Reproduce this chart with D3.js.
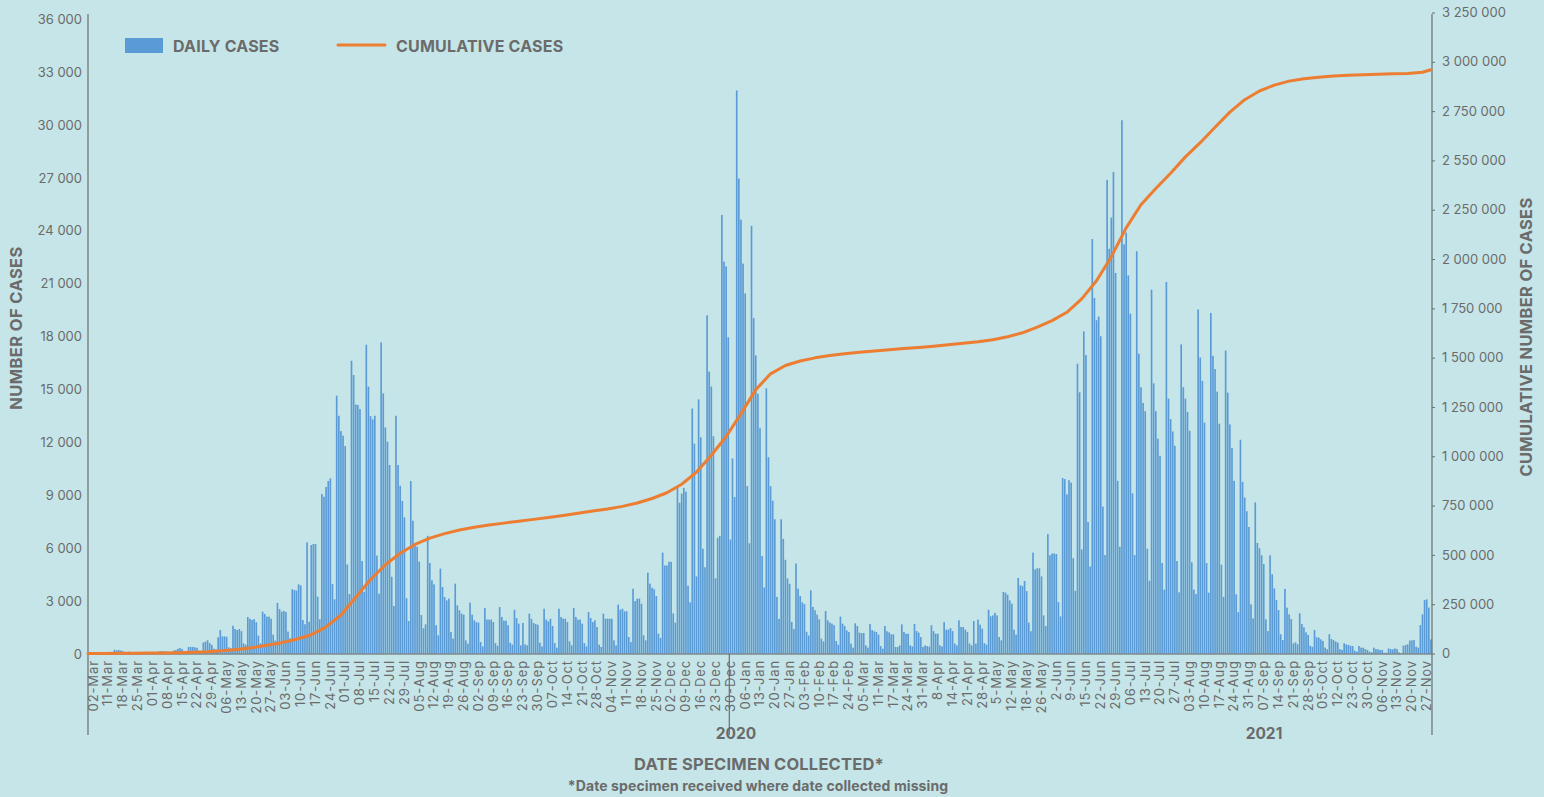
<!DOCTYPE html>
<html>
<head>
<meta charset="utf-8"/>
<title>Daily and cumulative cases</title>
<script src="https://d3js.org/d3.v7.min.js"></script>
<style>
  body { margin: 0; background: #c5e5e8; }
  svg { display: block; }
  text { font-family: Inter, "Noto Sans", sans-serif; fill: #6b6b6b; }
  .tick-label { font-size: 13px; }
  .cat-label { font-size: 13px; letter-spacing: 0.9px; }
  .bold { font-weight: 700; }
</style>
</head>
<body>
<svg width="1544" height="797"></svg>
<script>
// daily cases, one row per label week (Wed .. Tue)
var daily = [
  1, 0, 2, 3, 4, 10, 15,
  30, 50, 90, 60, 50, 240, 210,
  230, 200, 160, 90, 80, 130, 110,
  90, 80, 70, 40, 40, 60, 70,
  80, 90, 100, 60, 50, 150, 160,
  170, 150, 140, 80, 70, 200, 230,
  300, 340, 280, 150, 120, 390, 410,
  400, 380, 350, 180, 160, 650, 700,
  780, 620, 520, 300, 260, 950, 1360,
  1000, 1000, 980, 380, 320, 1600, 1420,
  1360, 1420, 1300, 600, 530, 2100, 2000,
  1930, 1980, 1800, 1040, 600, 2400, 2270,
  2120, 2120, 2000, 1100, 760, 2900, 2550,
  2400, 2450, 2380, 1270, 890, 3670, 3630,
  3600, 3950, 3900, 1930, 1690, 6330, 1830,
  6180, 6240, 6240, 3250, 1970, 9070, 8920,
  9470, 9810, 9960, 3970, 3100, 14650, 13510,
  12640, 12380, 11790, 5080, 3400, 16630, 15820,
  14150, 14120, 13890, 5270, 3530, 17540, 15160,
  13490, 13300, 13510, 5580, 3420, 17670, 14780,
  12850, 12040, 10720, 4380, 2720, 13510, 10720,
  9540, 8680, 7750, 3160, 1870, 9810, 7560,
  6180, 6090, 5240, 2210, 1460, 1680, 6700,
  5160, 4180, 3950, 1630, 1060, 4840, 3800,
  3230, 3040, 3140, 1250, 870, 3990, 2760,
  2480, 2290, 2230, 775, 590, 2910, 2230,
  1910, 1810, 1780, 680, 430, 2610, 1950,
  1950, 1950, 1810, 620, 470, 2660, 2100,
  1890, 1890, 1630, 640, 530, 2510, 2040,
  1720, 490, 1760, 550, 490, 2290, 2000,
  1760, 1700, 1660, 640, 430, 2570, 1950,
  1850, 2000, 1590, 620, 360, 2570, 2100,
  2000, 2000, 1810, 720, 490, 2610, 2100,
  1950, 1950, 1720, 620, 430, 2380, 2040,
  1810, 1910, 1530, 530, 400, 2290, 2000,
  2000, 2000, 2000, 775, 490, 2800, 2510,
  2570, 2420, 2420, 960, 680, 3700, 3000,
  3140, 3140, 2850, 1060, 775, 4610, 3990,
  3760, 3670, 3290, 1150, 910, 5750, 5020,
  5020, 5230, 5230, 2300, 1780, 9520, 8580,
  9100, 9420, 9210, 3870, 2930, 13920, 11930,
  4400, 14440, 12290, 5970, 4920, 19210, 16010,
  15170, 12350, 4290, 6590, 6700, 24900, 22250,
  21980, 17960, 6490, 11090, 8900, 31960, 26960,
  24630, 22140, 20450, 9520, 6280, 24280, 19050,
  16930, 14760, 12810, 5550, 3770, 15070, 11160,
  9520, 8690, 7640, 3240, 1990, 7640, 6530,
  5340, 4290, 3980, 1820, 1420, 5130, 3700,
  3290, 2930, 2830, 1260, 1050, 3610, 2670,
  2480, 2230, 1970, 870, 720, 2440, 1910,
  1780, 1720, 1630, 740, 530, 2120, 1720,
  1590, 1340, 1250, 590, 360, 1740, 1590,
  1210, 1190, 1190, 490, 360, 1700, 1360,
  1290, 1250, 1100, 450, 300, 1590, 1290,
  1230, 1120, 1120, 400, 400, 490, 1680,
  1250, 1150, 1150, 490, 430, 1700, 1300,
  1210, 960, 400, 490, 450, 420, 1630,
  1300, 1150, 1150, 490, 430, 1810, 1380,
  1380, 1470, 1300, 590, 490, 1910, 1530,
  1530, 1380, 1250, 590, 490, 1870, 590,
  1950, 1660, 1440, 620, 530, 2510, 2140,
  2190, 2330, 2190, 960, 775, 3520, 3480,
  3360, 3040, 2850, 1380, 1100, 4310, 3890,
  3860, 4140, 3570, 1780, 1290, 5750, 4800,
  4860, 4860, 4400, 2190, 1590, 6800, 5600,
  5700, 5700, 5670, 2940, 2130, 9980, 9920,
  9050, 9860, 9720, 5430, 3580, 16460, 14840,
  5930, 18290, 16950, 7490, 4960, 23530, 20190,
  18930, 19140, 18020, 8360, 5610, 26890, 22980,
  24750, 27340, 21610, 9820, 6080, 30270, 23230,
  23900, 21470, 19300, 9110, 5610, 22840, 17030,
  15130, 14240, 13770, 5970, 4150, 20660, 15350,
  13770, 12210, 11240, 5160, 3650, 21100, 14480,
  13320, 12620, 11810, 5270, 3500, 17560, 15130,
  14480, 13730, 12660, 5200, 3650, 3400, 19540,
  16810, 15490, 13120, 5160, 3480, 19340, 16910,
  16160, 14880, 13060, 5060, 3240, 17210, 14820,
  13020, 11680, 9820, 3380, 2370, 12150, 9760,
  8870, 8100, 7200, 2820, 2020, 8600, 6300,
  6000, 5600, 5100, 1970, 1300, 5600, 4520,
  3720, 3060, 2490, 1120, 790, 3690, 2630,
  2250, 1980, 600, 660, 550, 2310, 1700,
  1510, 1230, 1080, 470, 410, 1360, 950,
  930, 830, 740, 360, 270, 1120, 850,
  790, 700, 650, 280, 230, 610, 550,
  510, 470, 450, 190, 130, 450, 360,
  360, 280, 230, 130, 95, 360, 280,
  265, 230, 230, 75, 75, 320, 280,
  265, 320, 280, 95, 40, 470, 510,
  550, 760, 775, 790, 415, 360, 1640,
  2250, 3060, 3100, 2630, 830
];

// cumulative cases read at every labelled category, last value at the final bar
var cumulative = [
  0, 0, 800, 1800, 2200, 2900, 3900, 5900, 8800, 13500,
  20000, 29500, 41500, 55000, 72000, 95000, 135000, 195000, 285000, 375000,
  450000, 508000, 553000, 585000, 608000, 626000, 640000, 651000, 661000, 671000,
  680000, 690000, 700000, 711000, 722000, 733000, 746000, 763000, 786000, 815000,
  858000, 920000, 1005000, 1100000, 1215000, 1338000, 1418000, 1460000, 1483000, 1499000,
  1511000, 1520000, 1527000, 1534000, 1540000, 1546000, 1552000, 1558000, 1565000, 1573000,
  1581000, 1591000, 1606000, 1626000, 1655000, 1688000, 1730000, 1798000, 1890000, 2012000,
  2158000, 2275000, 2358000, 2435000, 2518000, 2590000, 2668000, 2745000, 2808000, 2852000,
  2882000, 2902000, 2914000, 2922000, 2928000, 2932000, 2935000, 2937000, 2939000, 2941000,
  2947000, 2960000
];

var catLabels = [
  "02-Mar","11-Mar","18-Mar","25-Mar","01-Apr","08-Apr","15-Apr","22-Apr","29-Apr",
  "06-May","13-May","20-May","27-May","03-Jun","10-Jun","17-Jun","24-Jun",
  "01-Jul","08-Jul","15-Jul","22-Jul","29-Jul","05-Aug","12-Aug","19-Aug","26-Aug",
  "02-Sep","09-Sep","16-Sep","23-Sep","30-Sep","07-Oct","14-Oct","21-Oct","28-Oct",
  "04-Nov","11-Nov","18-Nov","25-Nov","02-Dec","09-Dec","16-Dec","23-Dec","30-Dec",
  "06-Jan","13-Jan","20-Jan","27-Jan","03-Feb","10-Feb","17-Feb","24-Feb",
  "05-Mar","11-Mar","17-Mar","24-Mar","31-Mar","8-Apr","14-Apr","21-Apr","28-Apr",
  "5-May","12-May","18-May","26-May","2-Jun","9-Jun","15-Jun","22-Jun","29-Jun",
  "06-Jul","13-Jul","20-Jul","27-Jul","03-Aug","10-Aug","17-Aug","24-Aug","31-Aug",
  "07-Sep","14-Sep","21-Sep","28-Sep","05-Oct","12-Oct","23-Oct","30-Oct",
  "06-Nov","13-Nov","20-Nov","27-Nov"
];
var labelEvery = 7;

var years = ["2020", "2021"];
var yearStart = [0, 303];   // first category of each year

var leftTicks = [0, 3000, 6000, 9000, 12000, 15000, 18000, 21000, 24000, 27000, 30000, 33000, 36000];
var rightTicks = [0, 250000, 500000, 750000, 1000000, 1250000, 1500000, 1750000,
  2000000, 2250000, 2500000, 2750000, 3000000, 3250000];
var rightTickLabels = ["0", "250 000", "500 000", "750 000", "1 000 000", "1 250 000",
  "1 500 000", "1 750 000", "2 000 000", "2 250 000", "2 550 000", "2 750 000",
  "3 000 000", "3 250 000"];

var svg = d3.select("svg");
var left = 88, right = 1432, base = 654, axisTop = 14, axisBottom = 735;

svg.append("rect").attr("width", 1544).attr("height", 797).attr("fill", "#c5e5e8");

var x = d3.scaleBand()
  .domain(d3.range(daily.length))
  .range([left, right])
  .paddingInner(0.22).paddingOuter(0.11);
var yL = d3.scaleLinear().domain([0, 36000]).range([base, 19.2]);
var yR = d3.scaleLinear().domain([0, 3250000]).range([653.5, 12.5]);
var fmt = d3.formatLocale({decimal: ".", thousands: " ", grouping: [3], currency: ["", ""]}).format(",");

// bars
svg.append("g").selectAll("rect")
  .data(daily)
  .enter().append("rect")
    .attr("x", function(d, i) { return x(i); })
    .attr("width", x.bandwidth())
    .attr("y", function(d) { return yL(Math.max(0, d)); })
    .attr("height", function(d) { return Math.abs(yL(d) - yL(0)); })
    .attr("fill", "#5b9bd5");

// left axis (no ticks)
var gl = svg.append("g").attr("transform", "translate(" + left + ",0)")
  .call(d3.axisLeft(yL).tickValues(leftTicks).tickSize(0).tickPadding(6).tickFormat(fmt));
gl.select(".domain").remove();
gl.selectAll("text").attr("class", "tick-label").attr("fill", "#6b6b6b").style("font-family", null);

// right axis
var gr = svg.append("g").attr("transform", "translate(" + right + ",0)")
  .call(d3.axisRight(yR).tickValues(rightTicks).tickSize(3).tickPadding(7)
    .tickFormat(function(d, i) { return rightTickLabels[i]; }));
gr.select(".domain").remove();
gr.selectAll("line").attr("stroke", "#6d6d6d");
gr.selectAll("text").attr("class", "tick-label").attr("fill", "#6b6b6b").style("font-family", null);

// axis lines
svg.append("line").attr("x1", left).attr("x2", left).attr("y1", axisTop).attr("y2", axisBottom)
  .attr("stroke", "#6d6d6d").attr("stroke-width", 1.2);
svg.append("line").attr("x1", right).attr("x2", right).attr("y1", axisTop).attr("y2", axisBottom)
  .attr("stroke", "#6d6d6d").attr("stroke-width", 1.2);
svg.append("line").attr("x1", left).attr("x2", right).attr("y1", base).attr("y2", base)
  .attr("stroke", "#7d8a8c").attr("stroke-width", 1.6);
// year divider
var divX = x(yearStart[1]) - x.step() * x.paddingInner() / 2;
svg.append("line").attr("x1", divX).attr("x2", divX)
  .attr("y1", base).attr("y2", axisBottom)
  .attr("stroke", "#6d6d6d").attr("stroke-width", 1.2);

// category labels
svg.append("g").selectAll("text")
  .data(catLabels)
  .enter().append("text")
    .attr("class", "cat-label")
    .attr("text-anchor", "end")
    .attr("dy", "0.35em")
    .attr("transform", function(d, i) {
      var cx = x(i * labelEvery) + x.bandwidth() / 2 + 4;
      return "translate(" + cx + ",660) rotate(-90)";
    })
    .text(function(d) { return d; });

// year labels
var yearX = [736, 1264];
svg.append("g").selectAll("text")
  .data(years)
  .enter().append("text")
    .attr("class", "bold")
    .attr("x", function(d, i) { return yearX[i]; })
    .attr("y", 739)
    .attr("text-anchor", "middle")
    .attr("font-size", 15.5)
    .text(function(d) { return d; });

// cumulative line
var cumPts = cumulative.map(function(v, k) {
  var i = k < cumulative.length - 1 ? k * labelEvery : daily.length - 1;
  return [x(i) + x.bandwidth() / 2, yR(v)];
});
cumPts[0][0] = left;
svg.append("path")
  .attr("d", d3.line()(cumPts))
  .attr("fill", "none")
  .attr("stroke", "#ed7d31")
  .attr("stroke-width", 3)
  .attr("stroke-linejoin", "round")
  .attr("stroke-linecap", "round");

// axis titles
svg.append("text").attr("class", "bold").attr("font-size", 16.5)
  .attr("text-anchor", "middle").attr("letter-spacing", 0.4)
  .attr("transform", "translate(22,328) rotate(-90)")
  .text("NUMBER OF CASES");
svg.append("text").attr("class", "bold").attr("font-size", 16.5)
  .attr("text-anchor", "middle").attr("letter-spacing", 0.3)
  .attr("transform", "translate(1532,337) rotate(-90)")
  .text("CUMULATIVE NUMBER OF CASES");
svg.append("text").attr("class", "bold").attr("font-size", 16.5)
  .attr("text-anchor", "middle").attr("letter-spacing", 0.2)
  .attr("x", 759).attr("y", 770)
  .text("DATE SPECIMEN COLLECTED*");
svg.append("text").attr("class", "bold").attr("font-size", 14)
  .attr("text-anchor", "middle").attr("letter-spacing", 0.1)
  .attr("x", 758).attr("y", 791)
  .text("*Date specimen received where date collected missing");

// legend
svg.append("rect").attr("x", 125).attr("y", 38).attr("width", 38).attr("height", 15)
  .attr("fill", "#5b9bd5");
svg.append("text").attr("class", "bold").attr("font-size", 16).attr("letter-spacing", 0.2)
  .attr("x", 173).attr("y", 52).text("DAILY CASES");
svg.append("line").attr("x1", 338).attr("x2", 385).attr("y1", 45).attr("y2", 45)
  .attr("stroke", "#ed7d31").attr("stroke-width", 3).attr("stroke-linecap", "round");
svg.append("text").attr("class", "bold").attr("font-size", 16).attr("letter-spacing", 0.2)
  .attr("x", 396).attr("y", 52).text("CUMULATIVE CASES");
</script>
</body>
</html>
